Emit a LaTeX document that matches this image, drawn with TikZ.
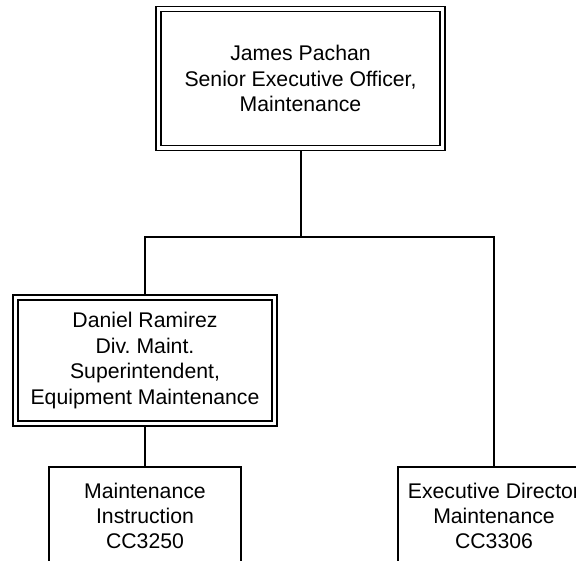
\documentclass[tikz,border=0pt]{standalone}
\usepackage{fontspec}
\setmainfont{Liberation Sans}
\frenchspacing
\begin{document}
\begin{tikzpicture}[x=1bp,y=-1bp,
  every node/.style={font=\fontsize{21.3}{25.5}\selectfont\frenchspacing, align=center, inner sep=0pt},
  dblbox/.style={draw, double, line width=1.4bp, double distance=3.4bp, outer sep=3.1bp, fill=white},
  plainbox/.style={draw, line width=2bp, outer sep=1bp, fill=white, minimum width=192bp, minimum height=98bp},
  conn/.style={line width=2bp, line join=miter}]
\useasboundingbox (0,0) rectangle (576,561);
\clip (0,0) rectangle (576,561);
\fill[white] (0,0) rectangle (576,561);
\node[dblbox, minimum width=284bp, minimum height=139bp] (top) at (300.5,78.5)
  {James Pachan\\Senior Executive Officer,\\Maintenance};
\node[dblbox, minimum width=259bp, minimum height=126bp] (dan) at (145,360.5)
  {Daniel Ramirez\\Div. Maint.\\Superintendent,\\Equipment Maintenance};
\node[plainbox] (mi) at (145,516) {Maintenance\\Instruction\\CC3250};
\node[plainbox] (ed) at (494,516) {Executive Director\\Maintenance\\CC3306};
\coordinate (bus) at (0,237);
\draw[conn] (top.south) -- (top.south |- bus);
\draw[conn] (dan.north) |- (ed.north |- bus) -- (ed.north);
\draw[conn] (dan.south) -- (mi.north);
\end{tikzpicture}
\end{document}
